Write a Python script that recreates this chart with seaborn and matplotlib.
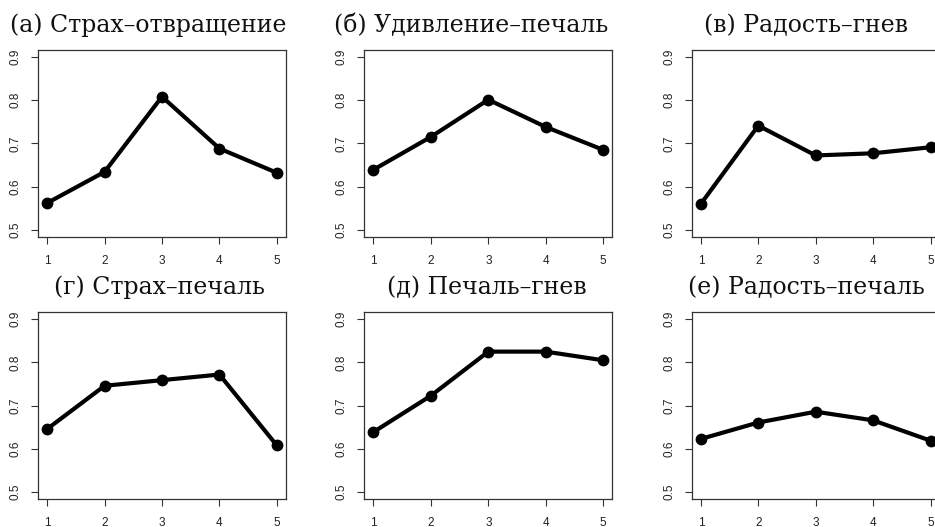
import matplotlib
matplotlib.use("Agg")
import matplotlib.pyplot as plt
import seaborn as sns
import pandas as pd

# данные по панелям (точность классификации по уровням)
levels = [1, 2, 3, 4, 5]
titles = ["(а) Страх–отвращение", "(б) Удивление–печаль", "(в) Радость–гнев",
          "(г) Страх–печаль", "(д) Печаль–гнев", "(е) Радость–печаль"]
fear_disgust = [0.562, 0.634, 0.808, 0.688, 0.632]
surprise_sad = [0.639, 0.715, 0.801, 0.738, 0.685]
joy_anger = [0.560, 0.741, 0.672, 0.677, 0.691]
fear_sad = [0.646, 0.746, 0.759, 0.772, 0.608]
sad_anger = [0.639, 0.723, 0.825, 0.825, 0.805]
joy_sad = [0.623, 0.661, 0.686, 0.666, 0.619]
series = [fear_disgust, surprise_sad, joy_anger, fear_sad, sad_anger, joy_sad]
y_ticks = [0.5, 0.6, 0.7, 0.8, 0.9]

sns.set_theme(style="white")
plt.rcParams['font.family'] = ['Liberation Sans', 'DejaVu Sans']

W, H = 935, 527
fig = plt.figure(figsize=(W / 100, H / 100), dpi=100)

col_left = [38, 364.3, 691.7]
row_top = [50, 312.3]
box_w, box_h = 248, 186.7
title_x = [[148.5, 471.5, 806], [159, 486.5, 806]]
title_base = [31.7, 294.3]

for i, (vals, title) in enumerate(zip(series, titles)):
    r, c = divmod(i, 3)
    ax = fig.add_axes([col_left[c] / W, 1 - (row_top[r] + box_h) / H, box_w / W, box_h / H])
    df = pd.DataFrame({'level': levels, 'acc': vals})
    sns.lineplot(data=df, x='level', y='acc', ax=ax, color='black', lw=3.0,
                 marker='o', markersize=8.5, markeredgewidth=0)
    ax.set_xlim(0.84, 5.16)
    ax.set_ylim(0.484, 0.916)
    ax.set_xticks(levels)
    ax.set_yticks(y_ticks)
    ax.set_xticklabels([str(v) for v in levels], fontsize=8.5)
    ax.set_yticklabels([f"{v:.1f}" for v in y_ticks], rotation=90, va='center', fontsize=8.5)
    ax.set_xlabel("")
    ax.set_ylabel("")
    for s in ax.spines.values():
        s.set_color('#333333')
        s.set_linewidth(0.9)
    ax.tick_params(axis='both', direction='out', length=5, width=0.8, color='#333333',
                   labelcolor='#222222', bottom=True, left=True)
    ax.tick_params(axis='x', pad=8)
    ax.tick_params(axis='y', pad=7)
    fig.text(title_x[r][c] / W, 1 - title_base[r] / H, title, ha='center', va='baseline',
             fontsize=17, family=['DejaVu Serif'], color='#111111')

fig.savefig("out.png", dpi=100)
